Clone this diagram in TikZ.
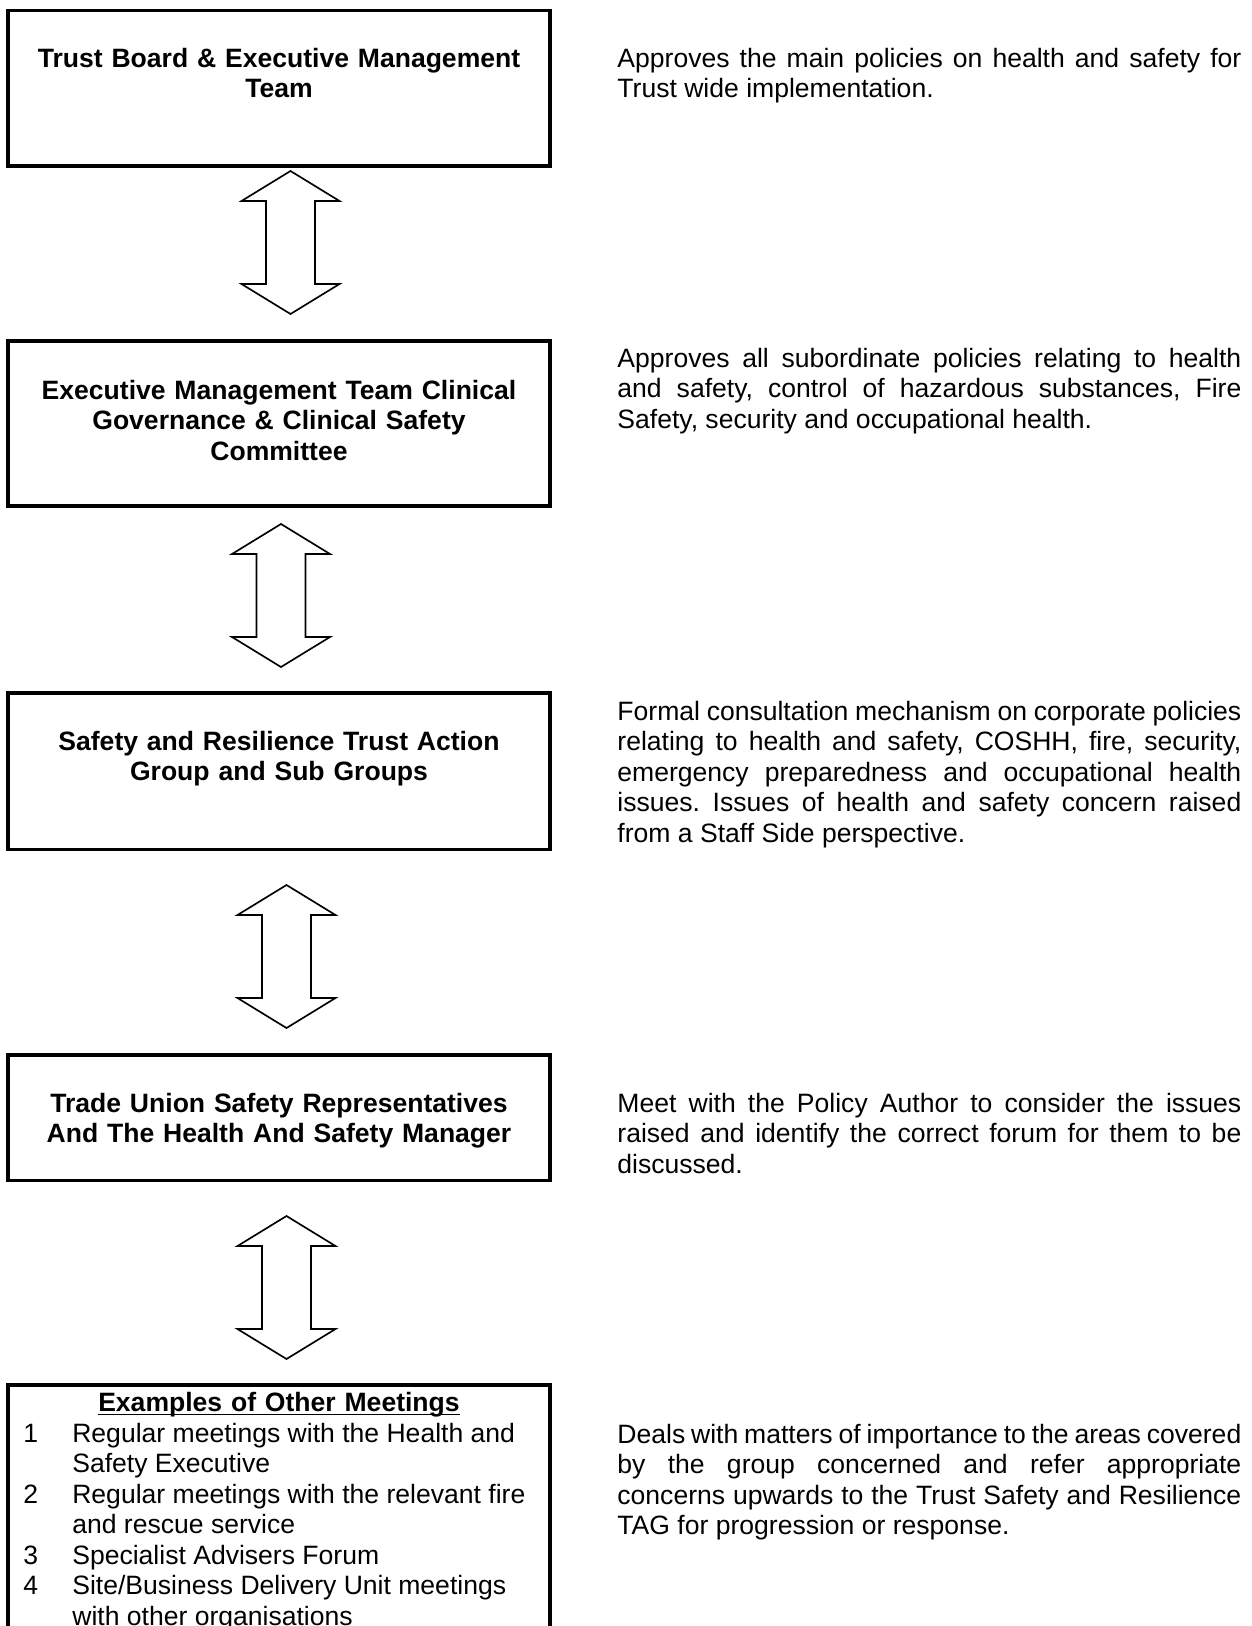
\documentclass[tikz,border=0pt]{standalone}
\usepackage{fontspec}
\setmainfont{Liberation Sans}
\usetikzlibrary{positioning,fit}
\tolerance=9999
\hyphenpenalty=10000
\exhyphenpenalty=10000
\frenchspacing

\begin{document}
\begin{tikzpicture}[
  x=0.452pt, y=-0.452pt,
  every node/.style={font=\fontsize{12}{13.8}\selectfont, inner sep=0pt},
  frame/.style={draw, line width=1.4pt, inner sep=0pt},
  boxtext/.style={font=\fontsize{12}{13.8}\selectfont\bfseries,
    text width=245pt, align=center, anchor=base},
  note/.style={text width=282pt, align=justify, anchor=base west},
  link/.style={draw, line width=0.75pt, fill=white},
  updown/.pic={
    \path[link] (0,0) -- (49,30) -- (24.5,30) -- (24.5,113) -- (49,113)
      -- (0,143) -- (-49,113) -- (-24.5,113) -- (-24.5,30) -- (-49,30) -- cycle;
  }
]
\path[use as bounding box, clip] (0,0) rectangle (1252,1626);

% left: the committee boxes
\node[frame, fit={(8,10.5) (550,166)}] (board) {};
\node[boxtext] (boardtxt) at (279,67)
  {Trust Board \& Executive Management\\Team};

\node[frame, fit={(8,341) (550,506)}] (emt) {};
\node[boxtext] (emttxt) at (279,399)
  {Executive Management Team Clinical\\Governance \& Clinical Safety\\Committee};

\node[frame, fit={(8,693) (550,849.5)}] (tag) {};
\node[boxtext] (tagtxt) at (279,750)
  {Safety and Resilience Trust Action\\Group and Sub Groups};

\node[frame, fit={(8,1055) (550,1180.5)}] (union) {};
\node[boxtext] (uniontxt) at (279,1112)
  {Trade Union Safety Representatives\\And The Health And Safety Manager};

\node[frame, fit={(8,1385) (550,1700)}] (others) {};
\node[boxtext] (otherstitle) at (279,1411.5)
  {\underline{\smash{Examples of Other Meetings}}};
\node[anchor=base west] (otherslist) at (23,1442) {%
  \begin{tabular}[t]{@{}p{22.1pt}@{}l@{}}
  1 & Regular meetings with the Health and\\
    & Safety Executive\\
  2 & Regular meetings with the relevant fire\\
    & and rescue service\\
  3 & Specialist Advisers Forum\\
  4 & Site/Business Delivery Unit meetings\\
    & with other organisations
  \end{tabular}};

% two-way arrows between the boxes
\foreach \x/\y [count=\i] in {290.5/171, 281/524, 286.5/885, 286.5/1216}
  \pic (arrow\i) at (\x,\y) {updown};

% right: what each level does
\node[note] (boardnote) at (617,67)
  {Approves the main policies on health and safety for\linebreak
   Trust wide implementation.};

\node[note] (emtnote) at (617,367)
  {Approves all subordinate policies relating to health\linebreak
   and safety, control of hazardous substances, Fire\linebreak
   Safety, security and occupational health.};

\node[note] (tagnote) at (617,720)
  {Formal consultation mechanism on corporate policies\linebreak
   relating to health and safety, COSHH, fire, security,\linebreak
   emergency preparedness and occupational health\linebreak
   issues. Issues of health and safety concern raised\linebreak
   from a Staff Side perspective.};

\node[note] (unionnote) at (617,1112)
  {Meet with the Policy Author to consider the issues\linebreak
   raised and identify the correct forum for them to be\linebreak
   discussed.};

\node[note] (othersnote) at (617,1443)
  {Deals with matters of importance to the areas covered\linebreak
   by the group concerned and refer appropriate\linebreak
   concerns upwards to the Trust Safety and Resilience\linebreak
   TAG for progression or response.};

\end{tikzpicture}
\end{document}
